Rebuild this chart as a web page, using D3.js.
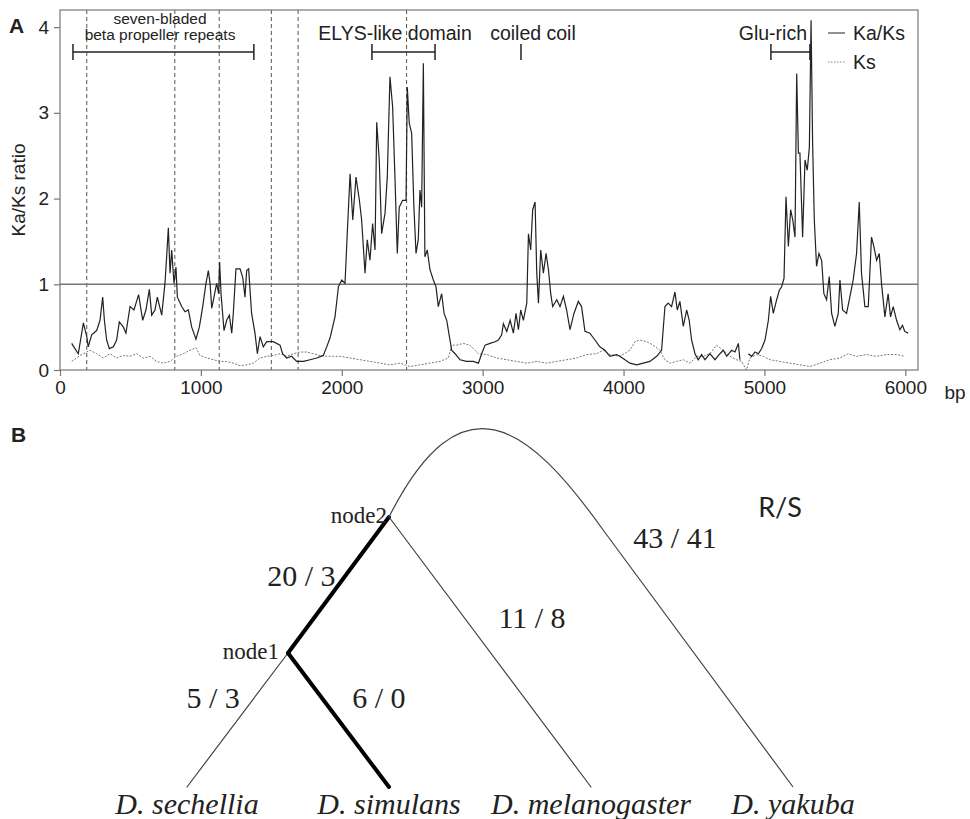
<!doctype html>
<html>
  <head>
    <style>
      body { margin: 0; background: #fff; }
      text { fill: #222; }
    </style>
  </head>
  <body>
    <svg id='chart0'></svg>

    <script src='https://d3js.org/d3.v7.min.js'></script>
    <script>
      // Panel A: sliding-window Ka/Ks ratio and Ks along the gene, [bp, value] pairs.
      // null marks the short gap in the Ka/Ks curve near 4850 bp.
      const ka_ks = [
        [83,0.31],[106,0.25],[130,0.19],[166,0.55],[190,0.39],[200,0.27],[225,0.41],[260,0.46],[284,0.58],[303,0.85],
        [315,0.58],[331,0.35],[350,0.25],[379,0.27],[402,0.35],[421,0.56],[450,0.50],[468,0.43],[497,0.74],[525,0.70],
        [558,0.88],[587,0.58],[610,0.70],[634,0.94],[651,0.64],[674,0.70],[691,0.85],[722,0.64],[745,1.01],[757,1.32],
        [769,1.66],[781,1.13],[793,1.40],[809,1.01],[823,1.20],[833,0.85],[864,0.74],[887,0.68],[911,0.70],[935,0.50],
        [965,0.36],[989,0.50],[1013,0.74],[1036,1.01],[1053,1.16],[1065,1.01],[1077,0.72],[1093,0.85],[1112,1.01],[1126,0.89],
        [1133,1.26],[1143,0.89],[1164,0.46],[1183,0.58],[1202,0.64],[1219,0.43],[1230,0.66],[1249,1.18],[1278,1.18],[1297,1.08],
        [1313,0.85],[1325,1.16],[1339,1.18],[1360,0.66],[1384,0.43],[1401,0.19],[1420,0.39],[1443,0.27],[1467,0.33],[1514,0.33],
        [1562,0.29],[1580,0.19],[1609,0.14],[1644,0.16],[1680,0.10],[1727,0.10],[1775,0.12],[1822,0.14],[1869,0.17],[1893,0.27],
        [1916,0.37],[1952,0.62],[1976,0.97],[2000,1.05],[2023,1.01],[2040,1.63],[2059,2.29],[2078,1.75],[2101,2.25],[2125,1.98],
        [2141,1.75],[2165,1.13],[2181,1.52],[2200,1.28],[2219,1.71],[2236,1.40],[2248,2.89],[2266,2.45],[2283,1.59],[2307,1.83],
        [2323,2.25],[2342,3.42],[2361,3.07],[2378,2.22],[2394,1.36],[2408,1.90],[2432,1.98],[2456,1.98],[2465,3.30],[2479,2.88],
        [2496,2.76],[2512,1.90],[2527,1.36],[2543,1.52],[2555,2.10],[2567,1.90],[2579,3.58],[2590,1.32],[2607,1.40],[2626,1.17],
        [2650,1.05],[2669,0.97],[2685,0.74],[2709,0.89],[2726,0.66],[2745,0.58],[2764,0.39],[2780,0.23],[2804,0.19],[2839,0.12],
        [2886,0.10],[2934,0.10],[2970,0.08],[2993,0.19],[3017,0.29],[3052,0.31],[3088,0.33],[3112,0.35],[3135,0.41],[3147,0.54],
        [3171,0.45],[3195,0.58],[3218,0.43],[3237,0.66],[3254,0.47],[3270,0.70],[3289,0.58],[3313,0.78],[3325,1.59],[3341,1.40],
        [3355,1.87],[3372,1.96],[3384,1.13],[3396,0.78],[3412,1.40],[3431,1.13],[3450,1.36],[3467,1.17],[3483,0.89],[3497,0.74],
        [3526,0.82],[3549,0.74],[3573,0.86],[3596,0.70],[3620,0.47],[3648,0.66],[3679,0.80],[3702,0.74],[3726,0.45],[3761,0.43],
        [3797,0.35],[3832,0.27],[3868,0.23],[3903,0.16],[3950,0.18],[3974,0.16],[4010,0.12],[4045,0.08],[4093,0.06],[4140,0.08],
        [4187,0.10],[4235,0.16],[4270,0.23],[4294,0.74],[4317,0.78],[4341,0.74],[4365,0.91],[4381,0.70],[4400,0.80],[4424,0.51],
        [4448,0.70],[4466,0.58],[4483,0.35],[4507,0.19],[4530,0.12],[4554,0.18],[4578,0.12],[4613,0.19],[4649,0.12],[4684,0.19],
        [4708,0.23],[4732,0.16],[4767,0.23],[4791,0.21],[4815,0.31],[4826,0.12],[4850,null],[4886,0.19],[4909,0.16],[4933,0.21],
        [4957,0.19],[4980,0.25],[5004,0.35],[5028,0.58],[5044,0.86],[5063,0.66],[5087,0.82],[5106,0.93],[5122,0.97],[5139,1.07],
        [5153,2.02],[5170,1.44],[5186,1.87],[5201,1.75],[5217,1.55],[5229,3.46],[5241,2.53],[5252,2.53],[5271,1.55],[5288,2.45],
        [5304,2.33],[5319,2.60],[5331,4.08],[5342,2.64],[5354,1.75],[5370,1.21],[5387,1.36],[5406,1.28],[5422,0.89],[5441,0.82],
        [5460,1.09],[5477,0.66],[5500,0.51],[5524,0.66],[5536,1.05],[5555,0.70],[5583,0.66],[5607,0.86],[5630,1.05],[5654,1.36],
        [5673,1.96],[5689,1.13],[5713,0.74],[5737,0.74],[5760,1.55],[5777,1.44],[5796,1.28],[5815,1.36],[5831,1.01],[5855,0.62],
        [5878,0.89],[5895,0.62],[5914,0.74],[5938,0.58],[5961,0.47],[5980,0.52],[5996,0.45],[6020,0.43]
      ];
      const ks = [
        [83,0.10],[142,0.17],[213,0.23],[260,0.19],[308,0.14],[355,0.19],[402,0.14],[450,0.17],[497,0.16],[544,0.19],
        [592,0.14],[639,0.16],[686,0.10],[733,0.08],[781,0.10],[828,0.16],[875,0.19],[923,0.23],[965,0.26],[994,0.17],
        [1041,0.14],[1088,0.12],[1136,0.10],[1183,0.10],[1230,0.08],[1278,0.05],[1325,0.06],[1372,0.08],[1420,0.14],[1467,0.16],
        [1514,0.17],[1562,0.19],[1609,0.16],[1656,0.19],[1704,0.21],[1751,0.21],[1798,0.19],[1845,0.17],[1893,0.16],[1940,0.16],
        [1987,0.16],[2059,0.14],[2130,0.12],[2200,0.10],[2271,0.08],[2342,0.06],[2413,0.08],[2484,0.04],[2555,0.06],[2626,0.08],
        [2697,0.10],[2756,0.14],[2780,0.29],[2816,0.29],[2863,0.31],[2910,0.29],[2946,0.23],[2970,0.19],[3029,0.18],[3100,0.14],
        [3171,0.12],[3242,0.10],[3313,0.08],[3384,0.10],[3455,0.08],[3526,0.10],[3596,0.12],[3667,0.14],[3738,0.18],[3809,0.19],
        [3856,0.23],[3903,0.18],[3974,0.16],[4045,0.23],[4081,0.33],[4116,0.35],[4164,0.33],[4211,0.29],[4258,0.23],[4294,0.12],
        [4329,0.08],[4376,0.10],[4424,0.12],[4471,0.08],[4519,0.16],[4566,0.16],[4613,0.19],[4660,0.29],[4708,0.23],[4755,0.16],
        [4802,0.12],[4838,0.10],[4873,0.00],[4897,0.14],[4945,0.18],[4992,0.16],[5039,0.12],[5110,0.10],[5181,0.08],[5252,0.06],
        [5323,0.04],[5394,0.08],[5465,0.12],[5536,0.14],[5595,0.19],[5654,0.16],[5725,0.18],[5796,0.16],[5867,0.18],[5938,0.18],
        [5996,0.16]
      ];
      const x_ticks = [0, 1000, 2000, 3000, 4000, 5000, 6000];
      const y_ticks = [0, 1, 2, 3, 4];
      // exon/intron-like boundaries drawn as dashed verticals (bp)
      const dashed_bp = [190, 815, 1130, 1500, 1690, 2460];
      // protein domains: [label lines, start bp, end bp, label centre bp]
      const domains = [
        [['seven-bladed', 'beta propeller repeats'], 92, 1376, 710],
        [['ELYS-like domain'], 2214, 2662, 2378],
        [['coiled coil'], 3272, 3272, 3357],
        [['Glu-rich'], 5046, 5323, 5060],
      ];
      const series_names = ['Ka/Ks', 'Ks'];

      // Panel B: cladogram. Leaves sit at index 0..3, nodes carry a height.
      const species = ['D. sechellia', 'D. simulans', 'D. melanogaster', 'D. yakuba'];
      const node1 = [0.5, 134];
      const node2 = [1.0, 270];
      // yakuba branch: bezier from node2 over the top to a join point, then straight to the leaf
      const yakuba_arc = {start: [1.0, 270], c1: [1.36, 414], c2: [1.69, 362], join: [2.06, 257], leaf: [3, 0]};
      // branch labels: [text, x index, height]
      const branch_labels = [
        ['5 / 3', 0.129, 90],
        ['6 / 0', 0.95, 90],
        ['20 / 3', 0.566, 212],
        ['11 / 8', 1.708, 170],
        ['43 / 41', 2.416, 250],
      ];

      const width = 970;
      const height = 819;
      const margin = ({top: 10, right: 52, bottom: 449, left: 60});
      const sans = "'Liberation Sans', Arial, sans-serif";

      const svg = d3.select('svg#chart0')
                    .attr('width', width)
                    .attr('height', height)
                    .style('font-family', sans);

      const x = d3.scaleLinear()
                  .domain([0, 6090])
                  .range([margin.left, width - margin.right]);
      const y = d3.scaleLinear()
                  .domain([0, 4.2])
                  .range([height - margin.bottom, margin.top]);

      const line = d3.line()
                     .defined(d => d[1] != null)
                     .x(d => x(d[0]))
                     .y(d => y(d[1]));

      // dashed boundaries
      svg.append('g')
         .selectAll('line')
         .data(dashed_bp)
         .join('line')
         .attr('x1', d => x(d)).attr('x2', d => x(d))
         .attr('y1', y(4.2)).attr('y2', y(0))
         .attr('stroke', '#555')
         .attr('stroke-width', 1)
         .attr('stroke-dasharray', '4,3');

      // reference line at ratio 1
      svg.append('line')
         .attr('x1', x(0)).attr('x2', x(6090))
         .attr('y1', y(1)).attr('y2', y(1))
         .attr('stroke', '#777')
         .attr('stroke-width', 1.5);

      svg.append('path')
         .attr('d', line(ks))
         .attr('fill', 'none')
         .attr('stroke', '#777')
         .attr('stroke-width', 1)
         .attr('stroke-dasharray', '2,1.5');

      svg.append('path')
         .attr('d', line(ka_ks))
         .attr('fill', 'none')
         .attr('stroke', '#222')
         .attr('stroke-width', 1.2);

      // frame
      svg.append('rect')
         .attr('x', x(0)).attr('y', y(4.2))
         .attr('width', x(6090) - x(0))
         .attr('height', y(0) - y(4.2))
         .attr('fill', 'none')
         .attr('stroke', '#777')
         .attr('stroke-width', 1.2);

      const x_axis = svg.append('g')
         .attr('transform', `translate(0,${y(0)})`)
         .call(d3.axisBottom(x).tickValues(x_ticks).tickSize(6).tickPadding(5).tickFormat(d3.format('d')));
      const y_axis = svg.append('g')
         .attr('transform', `translate(${x(0)},0)`)
         .call(d3.axisLeft(y).tickValues(y_ticks).tickSize(6).tickPadding(5).tickFormat(d3.format('d')));
      for (const ax of [x_axis, y_axis]) {
          ax.attr('font-size', null).attr('font-family', null);
          ax.select('.domain').remove();
          ax.selectAll('.tick line').attr('stroke', '#777').attr('stroke-width', 1.2);
          ax.selectAll('.tick text')
            .style('font-size', '19px')
            .style('font-family', sans)
            .attr('fill', '#222');
      }

      svg.append('text')
         .attr('x', x(6090) + 37).attr('y', y(0) + 22)
         .attr('text-anchor', 'middle')
         .attr('dy', '0.35em')
         .style('font-size', '19px')
         .text('bp');

      svg.append('text')
         .attr('transform', `translate(18,${(y(0) + y(4.2)) / 2}) rotate(-90)`)
         .attr('text-anchor', 'middle')
         .attr('dy', '0.35em')
         .style('font-size', '19px')
         .text('Ka/Ks ratio');

      svg.append('text')
         .attr('x', 9).attr('y', 26)
         .attr('dy', '0.35em')
         .style('font-size', '21px')
         .attr('font-weight', 'bold')
         .text('A');

      // domain brackets
      const bracket_y = 52;
      const dom = svg.append('g').selectAll('g').data(domains).join('g');
      dom.append('line')
         .attr('x1', d => x(d[1])).attr('x2', d => x(d[2]))
         .attr('y1', bracket_y).attr('y2', bracket_y)
         .attr('stroke', '#222').attr('stroke-width', 1.5);
      dom.selectAll('line.end')
         .data(d => d[1] == d[2] ? [d[1]] : [d[1], d[2]])
         .join('line')
         .attr('class', 'end')
         .attr('x1', d => x(d)).attr('x2', d => x(d))
         .attr('y1', bracket_y - 8).attr('y2', bracket_y + 8)
         .attr('stroke', '#222').attr('stroke-width', 1.5);
      dom.each(function(d) {
          const g = d3.select(this);
          const two = d[0].length > 1;
          d[0].forEach((t, i) => {
              g.append('text')
               .attr('x', x(d[3]))
               .attr('y', two ? 19 + i * 16 : 33)
               .attr('dy', '0.35em')
               .attr('text-anchor', 'middle')
               .style('font-size', two ? '15.5px' : '19.5px')
               .text(t);
          });
      });

      // legend
      const legend = svg.append('g')
                        .selectAll('g')
                        .data(series_names)
                        .join('g')
                        .attr('transform', (d, i) => `translate(828,${33 + i * 29})`);
      legend.append('line')
            .attr('x1', 0).attr('x2', 17)
            .attr('stroke', (d, i) => i == 0 ? '#222' : '#888')
            .attr('stroke-width', 1)
            .attr('stroke-dasharray', (d, i) => i == 0 ? null : '1.5,1.5');
      legend.append('text')
            .attr('x', 25)
            .attr('dy', '0.35em')
            .style('font-size', '19.5px')
            .text(d => d);

      // ---- Panel B: tree ----
      const tx = d3.scaleLinear().domain([0, 3]).range([187, 793]);
      const ty = d3.scaleLinear().domain([0, 354]).range([787, 433]);
      const tree = svg.append('g');

      svg.append('text')
         .attr('x', 11).attr('y', 435)
         .attr('dy', '0.35em')
         .style('font-size', '21px')
         .attr('font-weight', 'bold')
         .text('B');

      const edges = [
        [node1, [0, 0], 1.2, '#444'],
        [node1, [1, 0], 4, '#000'],
        [node2, node1, 4, '#000'],
        [node2, [2, 0], 1.2, '#444'],
      ];
      tree.selectAll('line')
          .data(edges)
          .join('line')
          .attr('x1', d => tx(d[0][0])).attr('y1', d => ty(d[0][1]))
          .attr('x2', d => tx(d[1][0])).attr('y2', d => ty(d[1][1]))
          .attr('stroke', d => d[3])
          .attr('stroke-width', d => d[2])
          .attr('stroke-linecap', 'round');

      const p = d3.path();
      const P = d => [tx(d[0]), ty(d[1])];
      p.moveTo(...P(yakuba_arc.start));
      p.bezierCurveTo(...P(yakuba_arc.c1), ...P(yakuba_arc.c2), ...P(yakuba_arc.join));
      p.lineTo(...P(yakuba_arc.leaf));
      tree.append('path')
          .attr('d', p.toString())
          .attr('fill', 'none')
          .attr('stroke', '#444')
          .attr('stroke-width', 1.2);

      const serif = "'Liberation Serif', 'Times New Roman', serif";
      tree.append('text')
          .attr('x', tx(node1[0]) - 9).attr('y', ty(node1[1]) - 2)
          .attr('dy', '0.35em')
          .attr('text-anchor', 'end')
          .style('font-family', serif)
          .style('font-size', '23px')
          .text('node1');
      tree.append('text')
          .attr('x', tx(node2[0]) - 2).attr('y', ty(node2[1]) - 2)
          .attr('dy', '0.35em')
          .attr('text-anchor', 'end')
          .style('font-family', serif)
          .style('font-size', '23px')
          .text('node2');

      tree.selectAll('text.branch')
          .data(branch_labels)
          .join('text')
          .attr('class', 'branch')
          .attr('x', d => tx(d[1])).attr('y', d => ty(d[2]))
          .attr('dy', '0.35em')
          .attr('text-anchor', 'middle')
          .style('font-family', serif)
          .style('font-size', '30px')
          .text(d => d[0]);

      tree.selectAll('text.leaf')
          .data(species)
          .join('text')
          .attr('class', 'leaf')
          .attr('x', (d, i) => tx(i)).attr('y', ty(0) + 16)
          .attr('dy', '0.35em')
          .attr('text-anchor', 'middle')
          .style('font-family', serif)
          .style('font-style', 'italic')
          .style('font-size', '30px')
          .text(d => d);

      tree.append('text')
          .attr('x', tx(2.936)).attr('y', ty(279))
          .attr('dy', '0.35em')
          .attr('text-anchor', 'middle')
          .style('font-family', "Lato, 'Open Sans', sans-serif")
          .style('font-size', '27px')
          .text('R/S');
    </script>
  </body>
</html>
